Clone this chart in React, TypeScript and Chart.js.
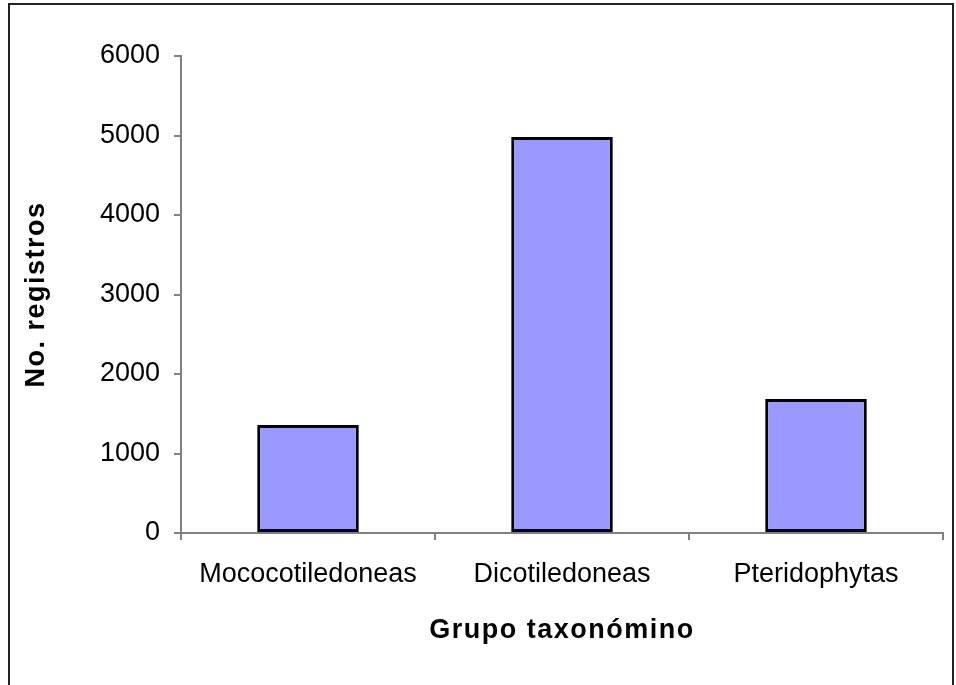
import React, { useEffect, useRef } from "react";
import { Chart, registerables } from "chart.js";

Chart.register(...registerables);

const categories = ["Mococotiledoneas", "Dicotiledoneas", "Pteridophytas"];
const registros = [1360, 4980, 1685];
const yTicks = [0, 1000, 2000, 3000, 4000, 5000, 6000];
const yTitle = "No. registros";
const xTitle = "Grupo taxonómino";

const spacingPlugin = {
  id: "titleSpacing",
  beforeDraw(chart: any) {
    (chart.ctx as any).letterSpacing = "1.5px";
  },
  afterDatasetsDraw(chart: any) {
    (chart.ctx as any).letterSpacing = "0px";
  },
};

export default function App() {
  const ref = useRef<HTMLCanvasElement | null>(null);
  useEffect(() => {
    if (!ref.current) return;
    const chart = new Chart(ref.current, {
      type: "bar",
      data: {
        labels: categories,
        datasets: [
          {
            data: registros,
            backgroundColor: "#9999FF",
            borderColor: "#000000",
            borderWidth: 3,
            borderSkipped: false,
            barPercentage: 0.4,
            categoryPercentage: 1,
          },
        ],
      },
      plugins: [spacingPlugin],
      options: {
        animation: false,
        responsive: true,
        maintainAspectRatio: false,
        devicePixelRatio: 1,
        layout: { padding: { top: 56, right: 13, left: 0, bottom: 0 } },
        plugins: { legend: { display: false }, tooltip: { enabled: false } },
        scales: {
          x: {
            afterFit: (s: any) => {
              s.height = 152;
            },
            grid: {
              drawOnChartArea: false,
              drawTicks: true,
              tickLength: 7,
              color: "#808080",
              lineWidth: 2,
            },
            border: { display: true, color: "#808080", width: 2 },
            ticks: {
              z: 1,
              color: "#000",
              padding: 18,
              maxRotation: 0,
              font: { family: "'Liberation Sans', Arial, sans-serif", size: 27 },
            },
            title: {
              display: true,
              text: xTitle,
              color: "#000",
              padding: { top: 0, bottom: 38 },
              font: { family: "'Liberation Sans', Arial, sans-serif", size: 27, weight: "bold" },
            },
          },
          y: {
            min: 0,
            max: 6000,
            afterFit: (s: any) => {
              s.width = 181;
            },
            afterBuildTicks: (s: any) => {
              s.ticks = yTicks.map((v) => ({ value: v }));
            },
            grid: {
              drawOnChartArea: false,
              drawTicks: true,
              tickLength: 7,
              color: "#808080",
              lineWidth: 2,
            },
            border: { display: true, color: "#808080", width: 2 },
            ticks: {
              z: 1,
              color: "#000",
              padding: 14,
              callback: (v: any) => String(v),
              font: { family: "'Liberation Sans', Arial, sans-serif", size: 27 },
            },
            title: {
              display: true,
              text: yTitle,
              color: "#000",
              padding: { top: 20, bottom: 0 },
              font: { family: "'Liberation Sans', Arial, sans-serif", size: 27, weight: "bold" },
            },
          },
        },
      },
    } as any);
    return () => chart.destroy();
  }, []);
  return (
    <div style={{ position: "fixed", left: 0, top: 0, width: 956, height: 685, background: "#fff" }}>
      <div
        style={{
          position: "absolute",
          left: 8,
          top: 3,
          width: 946,
          height: 720,
          border: "2px solid #222",
          boxSizing: "border-box",
        }}
      />
      <canvas ref={ref} style={{ position: "absolute", left: 0, top: 0 }} />
    </div>
  );
}
